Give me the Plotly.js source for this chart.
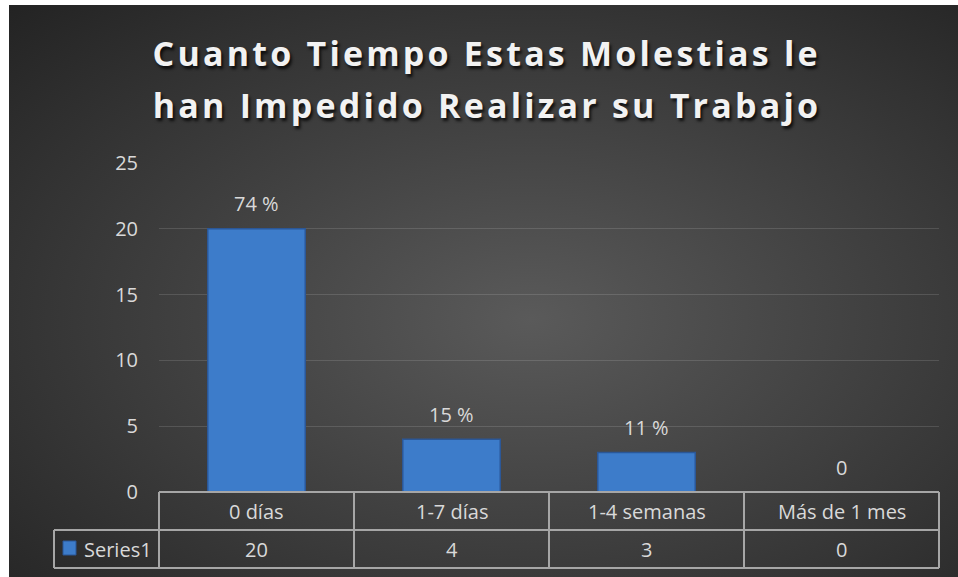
<!DOCTYPE html>
<html><head><meta charset="utf-8">
<script src="https://cdn.plot.ly/plotly-3.0.1.min.js"></script>
<style>
html,body{margin:0;padding:0;background:#ffffff;}
#chart{width:958px;height:577px;background:radial-gradient(ellipse farthest-corner at 55% 55%, #5a5a5a 0%, #232323 100%) 9px 5px / 949px 572px no-repeat, #ffffff;}
text.gtitle, g.annotation[data-index="0"] text{letter-spacing:3.2px;}
</style></head><body><div id="chart"></div>
<script>
const titleLine1 = 'Cuanto Tiempo Estas Molestias le';
const titleLine2 = 'han Impedido Realizar su Trabajo';
const categories = ['0 días', '1-7 días', '1-4 semanas', 'Más de 1 mes'];
const values = [20, 4, 3, 0];
const dataLabels = ['74 %', '15 %', '11 %', '0'];
const seriesName = 'Series1';
const yTicks = [0, 5, 10, 15, 20, 25];

const FONT = '"Open Sans", Lato, sans-serif';
const textColor = '#d9d9d9';
const lineColor = '#a6a6a6';
const barColor = '#3d7cca';

const n = categories.length;
const rowH = 38 / 329;       // table row height in paper units
const legLeft = -105 / 780;  // left edge of the legend cell

const shapes = [];
shapes.push({type:'line', xref:'paper', yref:'paper', x0:0, x1:1, y0:0, y1:0, line:{color:lineColor, width:2}});
shapes.push({type:'line', xref:'paper', yref:'paper', x0:legLeft, x1:1, y0:-rowH, y1:-rowH, line:{color:lineColor, width:2}});
shapes.push({type:'line', xref:'paper', yref:'paper', x0:legLeft, x1:1, y0:-2*rowH, y1:-2*rowH, line:{color:lineColor, width:2}});
for (let i = 0; i <= n; i++) {
  shapes.push({type:'line', xref:'paper', yref:'paper', x0:i/n, x1:i/n, y0:0, y1:-2*rowH, line:{color:lineColor, width:2}});
}
shapes.push({type:'line', xref:'paper', yref:'paper', x0:legLeft, x1:legLeft, y0:-rowH, y1:-2*rowH, line:{color:lineColor, width:2}});
shapes.push({type:'rect', xref:'paper', yref:'paper', x0:-96/780, x1:-83/780, y0:-49/329, y1:-63/329,
  fillcolor:barColor, line:{color:'#2b5797', width:1}});

const titleFont = {family:FONT, size:34, weight:700, color:'#f2f2f2', shadow:'2px 3px 3px rgba(0,0,0,0.75)'};
const cellFont = {family:FONT, size:20, color:textColor};

const annotations = [];
annotations.push({x:(487 - 159) / 780, xref:'paper', y:1.176, yref:'paper', text:titleLine2, showarrow:false,
  xanchor:'center', yanchor:'middle', font:titleFont});
categories.forEach((c, i) => {
  annotations.push({x:c, xref:'x', y:-0.5*rowH, yref:'paper', text:c, showarrow:false,
    xanchor:'center', yanchor:'middle', font:cellFont});
  annotations.push({x:c, xref:'x', y:-1.5*rowH, yref:'paper', text:String(values[i]), showarrow:false,
    xanchor:'center', yanchor:'middle', font:cellFont});
  annotations.push({x:c, xref:'x', y:values[i], yref:'y', text:dataLabels[i], showarrow:false,
    xanchor:'center', yanchor:'middle', yshift:25, font:cellFont});
});
annotations.push({x:-77/780, xref:'paper', y:-1.5*rowH, yref:'paper', text:seriesName, showarrow:false,
  xanchor:'left', yanchor:'middle', font:cellFont});

const trace = {
  type:'bar', x:categories, y:values, name:seriesName,
  marker:{color:barColor, line:{color:'#2b5797', width:1.5}},
  hoverinfo:'x+y', showlegend:false
};

const layout = {
  width:958, height:577,
  paper_bgcolor:'rgba(0,0,0,0)', plot_bgcolor:'rgba(0,0,0,0)',
  margin:{l:159, r:19, t:163, b:85},
  title:{text:titleLine1, x:0.508, xref:'container', y:0.907, yref:'container', yanchor:'middle', font:titleFont},
  bargap:0.5,
  xaxis:{type:'category', range:[-0.5, n-0.5], showgrid:false, showticklabels:false, zeroline:false, showline:false, ticks:''},
  yaxis:{range:[0,25], tickvals:yTicks, ticktext:yTicks.map(String), showgrid:true, gridcolor:'rgba(255,255,255,0.13)', gridwidth:1,
    zeroline:false, showline:false, ticks:'', ticklabelstandoff:20, tickfont:cellFont},
  shapes:shapes, annotations:annotations, showlegend:false
};
Plotly.newPlot('chart', [trace], layout, {displayModeBar:false});
</script></body></html>
